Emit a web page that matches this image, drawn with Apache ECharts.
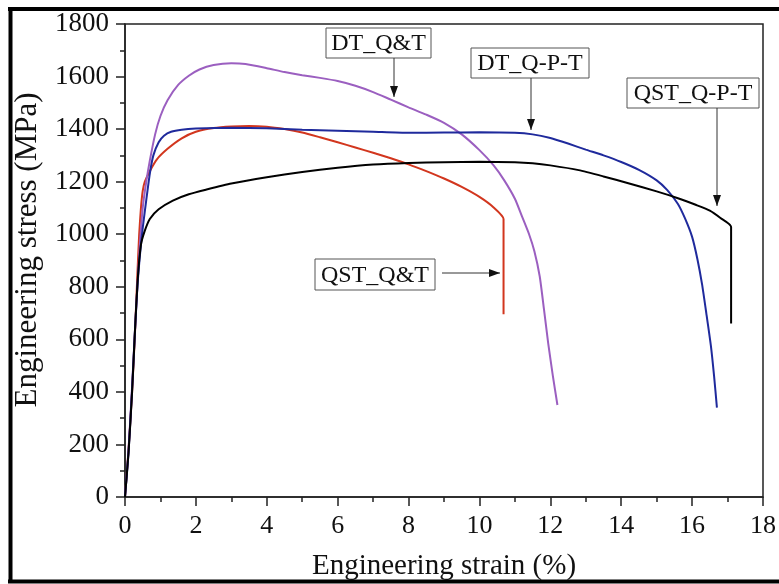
<!DOCTYPE html>
<html>
<head>
<meta charset="utf-8">
<script src="https://cdn.jsdelivr.net/npm/echarts@6/dist/echarts.min.js"></script>
<style>html,body{margin:0;padding:0;background:#fff}#c{width:779px;height:584px}</style>
</head>
<body>
<div id="c"></div>
<script>
// ---- data (strain %, stress MPa) ----
var xTicks = [0, 2, 4, 6, 8, 10, 12, 14, 16, 18];
var yTicks = [0, 200, 400, 600, 800, 1000, 1200, 1400, 1600, 1800];

var qstQT = [[0,0],[0.1,180],[0.2,400],[0.28,620],[0.35,850],[0.4,1000],[0.45,1100],[0.5,1165],[0.56,1200],[0.7,1240],[0.9,1285],[1.2,1325],[1.6,1365],[2.0,1390],[2.5,1404],[3.0,1410],[3.5,1412],[4.0,1409],[4.5,1400],[5.0,1387],[5.5,1369],[6.0,1350],[6.5,1330],[7.0,1310],[7.5,1289],[8.0,1266],[8.5,1240],[9.0,1212],[9.5,1180],[10.0,1142],[10.4,1102],[10.68,1058],[10.68,695]];

var dtQT = [[0,0],[0.1,180],[0.2,420],[0.3,680],[0.4,920],[0.5,1100],[0.6,1200],[0.7,1280],[0.85,1380],[1.0,1450],[1.2,1510],[1.5,1568],[1.8,1603],[2.1,1627],[2.5,1644],[3.0,1651],[3.4,1648],[4.0,1632],[4.5,1617],[5.0,1605],[5.5,1595],[6.0,1583],[6.5,1565],[7.0,1541],[7.5,1512],[8.0,1483],[8.5,1455],[9.0,1424],[9.5,1380],[10.0,1320],[10.4,1262],[10.7,1205],[11.0,1135],[11.2,1068],[11.4,1000],[11.55,935],[11.7,840],[11.82,715],[11.94,585],[12.07,462],[12.2,350]];

var dtQPT = [[0,0],[0.1,170],[0.2,410],[0.28,630],[0.36,820],[0.48,1000],[0.6,1130],[0.7,1230],[0.8,1300],[0.95,1350],[1.1,1375],[1.3,1390],[1.6,1398],[2.0,1402],[3.0,1405],[4.0,1403],[5.0,1398],[6.0,1394],[7.0,1390],[8.0,1386],[9.0,1387],[10.0,1388],[11.0,1386],[11.5,1380],[12.0,1366],[12.5,1345],[13.0,1322],[13.5,1300],[14.0,1275],[14.5,1245],[15.0,1205],[15.3,1168],[15.6,1115],[15.8,1060],[16.0,990],[16.15,905],[16.28,810],[16.4,700],[16.53,575],[16.62,460],[16.7,340]];

var qstQPT = [[0,0],[0.1,170],[0.2,400],[0.28,630],[0.36,830],[0.45,960],[0.55,1010],[0.7,1058],[0.95,1095],[1.35,1128],[1.8,1152],[2.3,1170],[3.0,1193],[4.0,1217],[5.0,1237],[6.0,1253],[7.0,1265],[8.0,1271],[9.0,1274],[10.0,1276],[11.0,1274],[11.5,1270],[12.0,1262],[12.8,1244],[13.5,1220],[14.2,1194],[15.0,1163],[15.6,1137],[16.1,1112],[16.5,1090],[16.8,1062],[17.1,1028],[17.1,660]];

var seriesNames = ['QST_Q&T', 'DT_Q&T', 'DT_Q-P-T', 'QST_Q-P-T'];
var seriesColors = ['#d2361e', '#9b5fc0', '#1f2a9c', '#000000'];
var seriesData = [qstQT, dtQT, dtQPT, qstQPT];

var serif = '"Liberation Serif", "Times New Roman", serif';

var chart = echarts.init(document.getElementById('c'));

function annotation(label, box, arrow) {
  var els = [];
  els.push({type:'rect', shape:{x:box[0], y:box[1], width:box[2], height:box[3]},
    style:{fill:'#fff', stroke:'#555', lineWidth:1}, z:10});
  els.push({type:'text', x:box[0]+box[2]/2, y:box[1]+box[3]/2+1,
    style:{text:label, font:'24px ' + serif, fill:'#111', align:'center', verticalAlign:'middle'}, z:11});
  var x1 = arrow[0], y1 = arrow[1], x2 = arrow[2], y2 = arrow[3];
  els.push({type:'line', shape:{x1:x1, y1:y1, x2:x2, y2:y2}, style:{stroke:'#333', lineWidth:1}, z:10});
  var dx = x2 - x1, dy = y2 - y1, L = Math.sqrt(dx*dx+dy*dy); dx/=L; dy/=L;
  var hl = 11, hw = 4;
  els.push({type:'polygon', shape:{points:[[x2,y2],[x2-dx*hl-dy*hw, y2-dy*hl+dx*hw],[x2-dx*hl+dy*hw, y2-dy*hl-dx*hw]]},
    style:{fill:'#111'}, z:10});
  return els;
}

var graphics = [];
graphics = graphics.concat(annotation('DT_Q&T', [326, 28, 105, 30], [394, 58, 394, 97]));
graphics = graphics.concat(annotation('DT_Q-P-T', [471, 48, 118, 30], [531, 78, 531, 130]));
graphics = graphics.concat(annotation('QST_Q-P-T', [627, 78, 132, 30], [717, 108, 717, 206]));
graphics = graphics.concat(annotation('QST_Q&T', [315, 259, 120, 31], [442, 273, 500, 273]));
// outer frame
graphics.push({type:'line', shape:{x1:10.5, y1:7, x2:10.5, y2:583}, style:{stroke:'#000', lineWidth:4}});
graphics.push({type:'line', shape:{x1:8, y1:9, x2:779, y2:9}, style:{stroke:'#000', lineWidth:4}});
graphics.push({type:'line', shape:{x1:8, y1:581.5, x2:779, y2:581.5}, style:{stroke:'#000', lineWidth:4}});
// axis titles
graphics.push({type:'text', x:444, y:566, style:{text:'Engineering strain (%)', font:'29px ' + serif, fill:'#111', align:'center', verticalAlign:'middle'}});
graphics.push({type:'text', x:28, y:250, rotation:Math.PI/2, style:{text:'Engineering stress (MPa)', font:'31px ' + serif, fill:'#111', align:'center', verticalAlign:'middle'}});

var series = seriesData.map(function (d, i) {
  return {
    name: seriesNames[i], type:'line', data:d, showSymbol:false, smooth:0.2,
    lineStyle:{color:seriesColors[i], width:2}, itemStyle:{color:seriesColors[i]},
    animation:false, z:3
  };
});

chart.setOption({
  animation:false,
  backgroundColor:'#fff',
  grid:{left:125, top:24, right:14, bottom:87, show:true, borderColor:'#222', borderWidth:1.5, backgroundColor:'transparent'},
  xAxis:{
    type:'value', min:xTicks[0], max:xTicks[xTicks.length-1], interval:2,
    axisLine:{show:true, lineStyle:{color:'#222', width:1.5}},
    axisTick:{show:true, inside:false, length:9, lineStyle:{color:'#222', width:1.5}},
    minorTick:{show:true, splitNumber:2, length:5, lineStyle:{color:'#222', width:1.5}},
    splitLine:{show:false},
    axisLabel:{margin:16, fontFamily:serif, fontSize:26, color:'#111', showMinLabel:true, showMaxLabel:true,
      formatter:function(v){return xTicks.indexOf(v) >= 0 ? String(v) : '';}}
  },
  yAxis:{
    type:'value', min:yTicks[0], max:yTicks[yTicks.length-1], interval:200,
    axisLine:{show:true, lineStyle:{color:'#222', width:1.5}},
    axisTick:{show:true, inside:false, length:9, lineStyle:{color:'#222', width:1.5}},
    minorTick:{show:true, splitNumber:2, length:5, lineStyle:{color:'#222', width:1.5}},
    splitLine:{show:false},
    axisLabel:{margin:16, fontFamily:serif, fontSize:27, color:'#111', showMinLabel:true, showMaxLabel:true,
      formatter:function(v){return yTicks.indexOf(v) >= 0 ? String(v) : '';}}
  },
  series: series,
  graphic: graphics
});
</script>
</body>
</html>
